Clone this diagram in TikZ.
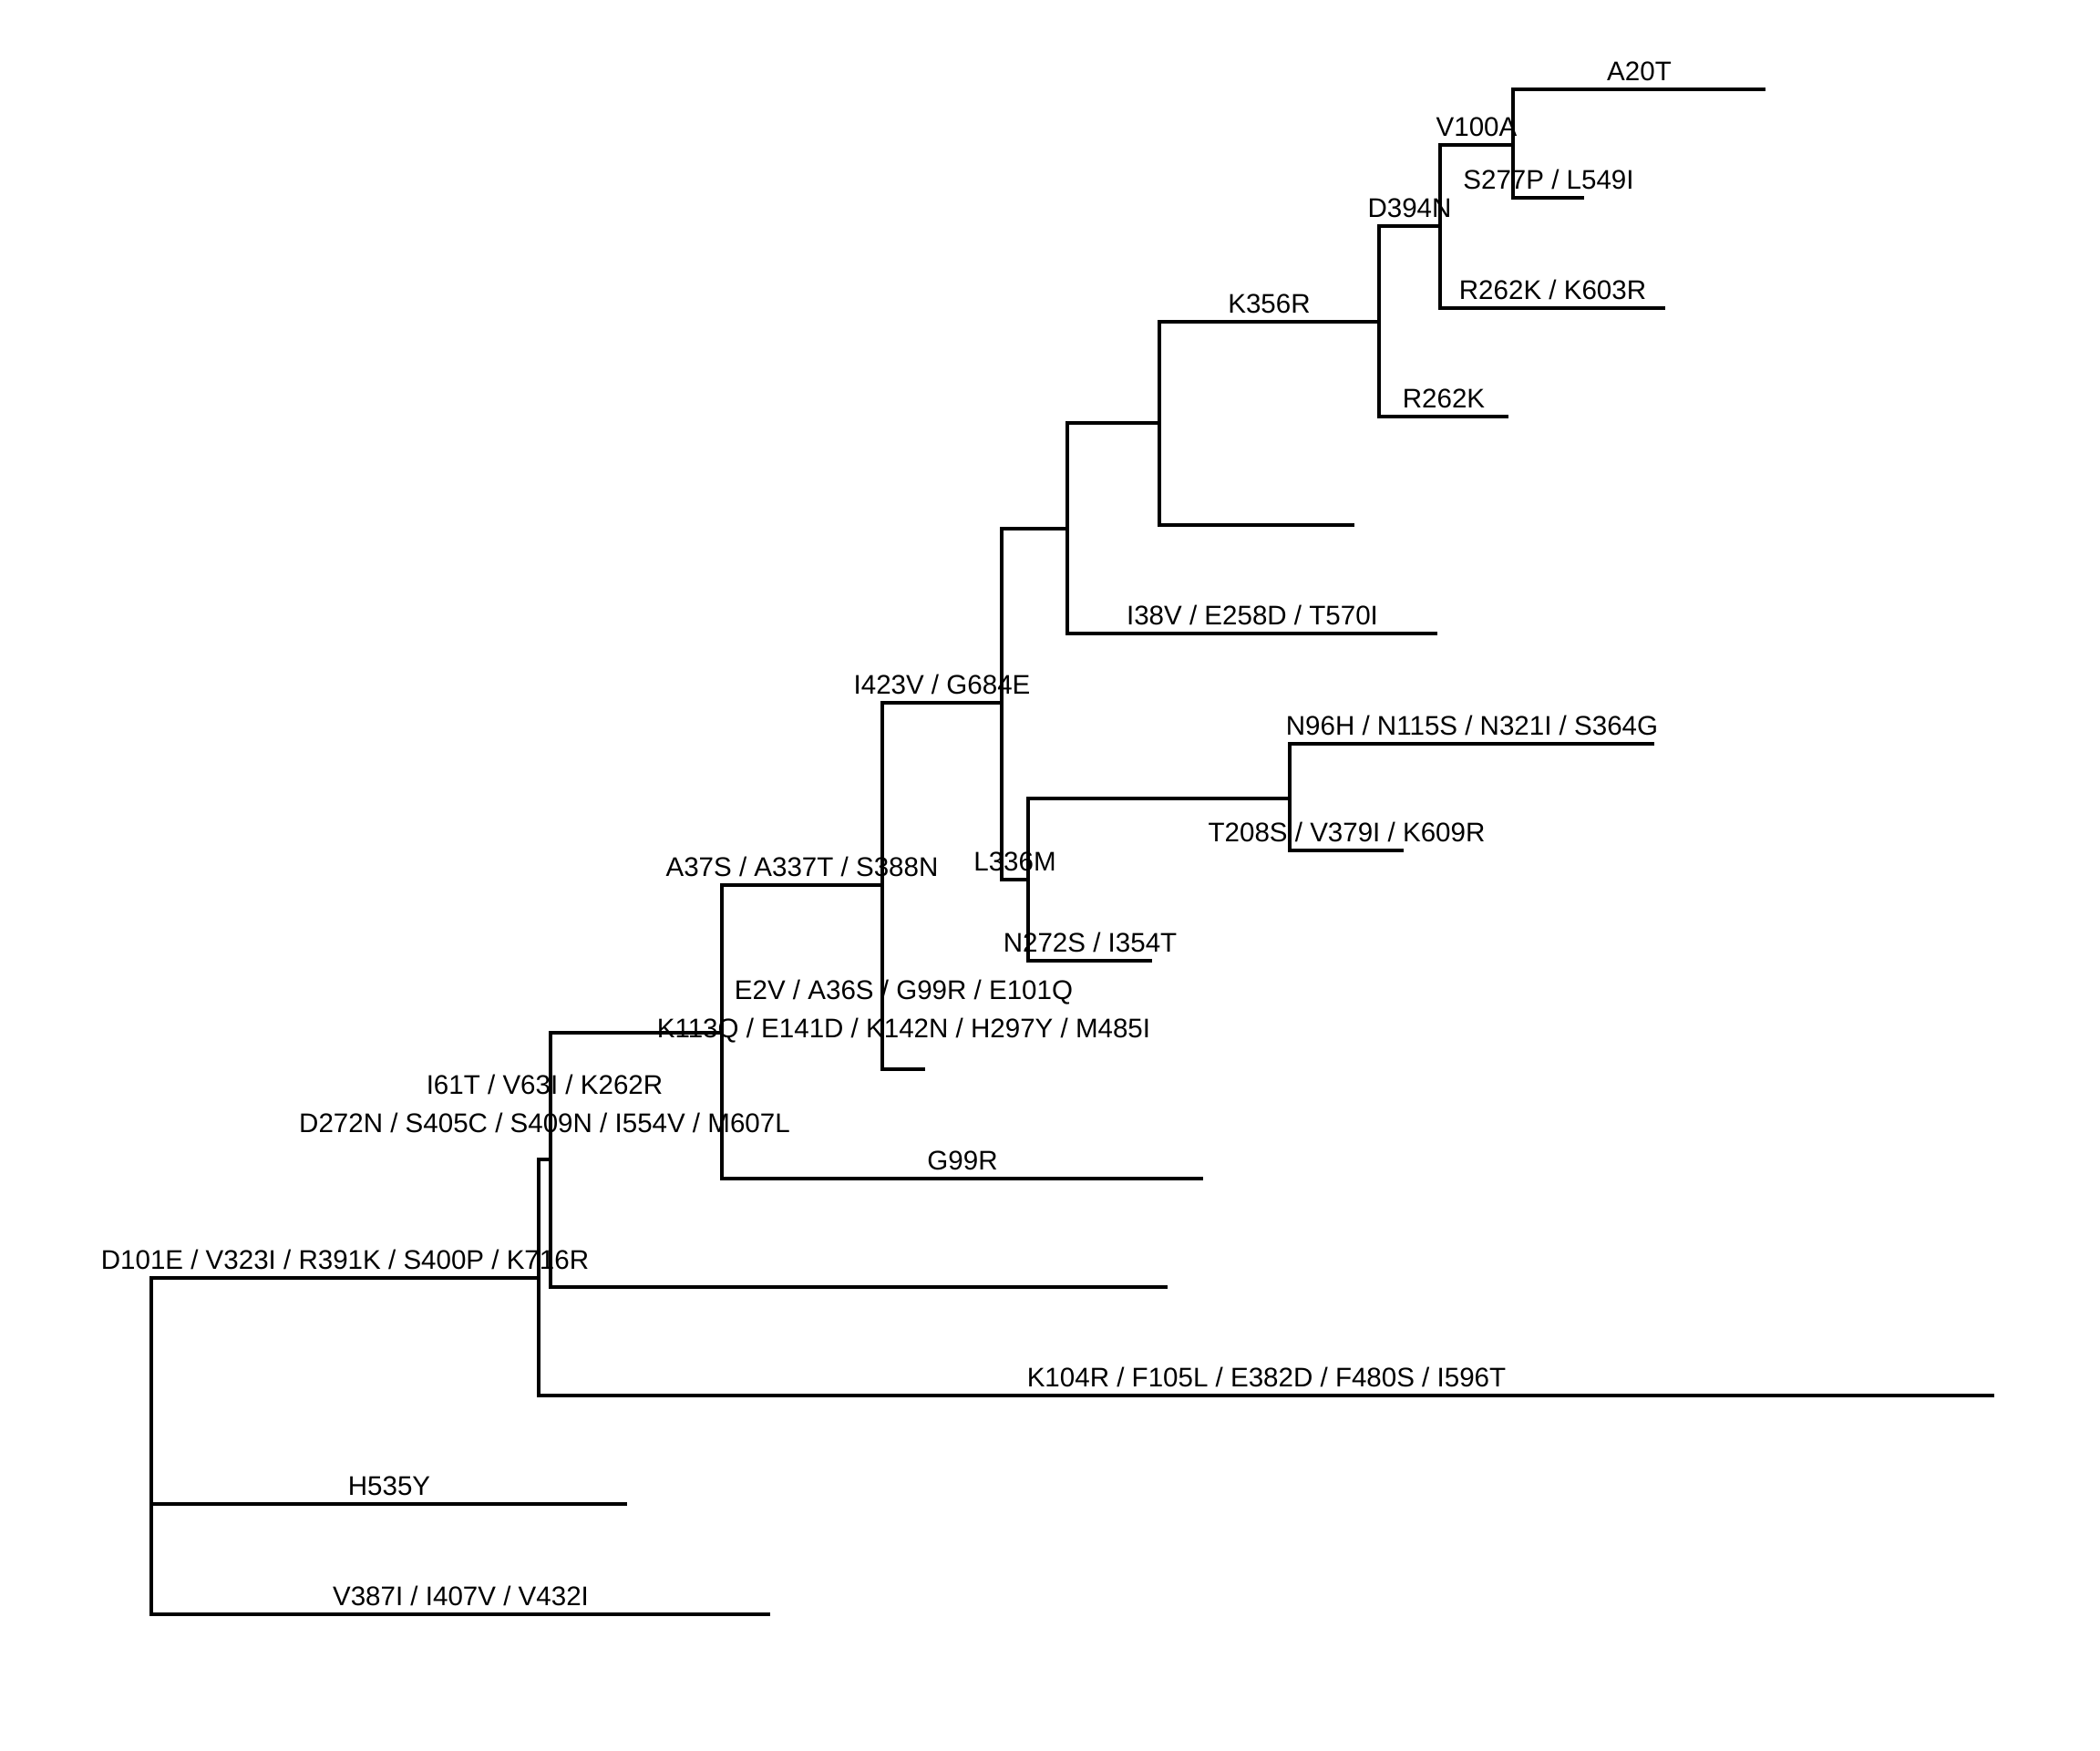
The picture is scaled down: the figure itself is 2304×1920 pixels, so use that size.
\documentclass[tikz,border=0pt]{standalone}
\usepackage{fontspec}
\newfontfamily\mutfont{Liberation Sans}
\begin{document}
\begin{tikzpicture}[%
    x=0.01cm, y=-0.01cm,        % work in pixels of the original, y going down
    line width=0.9pt,           % all branches share one weight
    ]
% -------------------------------------------------
% Branch and label styles
\tikzset{
  branch/.style={draw, line join=miter},
  mut/.style={font={\mutfont\fontsize{8.4}{12}\selectfont}, inner sep=0pt,
    anchor=base, yshift=1mm},
  % two lines of mutations sit a bit higher over their branch
  mutt/.style={font={\mutfont\fontsize{8.4}{12}\selectfont}, inner sep=0pt,
    align=center, anchor=south, yshift=2.75mm},
}
\useasboundingbox (0,0) rectangle (2304,1920);
% -------------------------------------------------
% Inner nodes of the tree
\coordinate (n0)  at (166,1608);
\coordinate (n1)  at (591,1402);
\coordinate (n2)  at (604,1272);
\coordinate (n3)  at (792,1133);
\coordinate (n4)  at (968,971);
\coordinate (n5)  at (1099,771);
\coordinate (n6)  at (1171,580);
\coordinate (n7)  at (1128,965);
\coordinate (n8)  at (1272,464);
\coordinate (n9)  at (1513,353);
\coordinate (n10) at (1580,248);
\coordinate (n11) at (1660,159);
\coordinate (n12) at (1415,876);
% Tips
\coordinate (t1)  at (688,1650);
\coordinate (t2)  at (845,1771);
\coordinate (t3)  at (2188,1531);
\coordinate (t4)  at (1281,1412);
\coordinate (t5)  at (1320,1293);
\coordinate (t6)  at (1015,1173);
\coordinate (t7)  at (1577,695);
\coordinate (t8)  at (1486,576);
\coordinate (t9)  at (1655,457);
\coordinate (t10) at (1827,338);
\coordinate (t11) at (1937,98);
\coordinate (t12) at (1738,217);
\coordinate (t13) at (1264,1054);
\coordinate (t14) at (1815,816);
\coordinate (t15) at (1540,933);
% -------------------------------------------------
% Branches, each one labelled with its mutations
\draw [branch] (n0) |- node [mut, pos=.75] {D101E / V323I / R391K / S400P / K716R} (n1);
\draw [branch] (n0) |- node [mut, pos=.75] {H535Y} (t1);
\draw [branch] (n0) |- node [mut, pos=.75] {V387I / I407V / V432I} (t2);

\draw [branch] (n1) |- node [mutt, pos=.75]
  {I61T / V63I / K262R\\D272N / S405C / S409N / I554V / M607L} (n2);
\draw [branch] (n1) |- node [mut, pos=.75] {K104R / F105L / E382D / F480S / I596T} (t3);

\draw [branch] (n2) |- (n3);
\draw [branch] (n2) |- (t4);

\draw [branch] (n3) |- node [mut, pos=.75] {A37S / A337T / S388N} (n4);
\draw [branch] (n3) |- node [mut, pos=.75] {G99R} (t5);

\draw [branch] (n4) |- node [mut, pos=.75] {I423V / G684E} (n5);
\draw [branch] (n4) |- node [mutt, pos=.75]
  {E2V / A36S / G99R / E101Q\\K113Q / E141D / K142N / H297Y / M485I} (t6);

\draw [branch] (n5) |- (n6);
\draw [branch] (n5) |- node [mut, pos=.75] {L336M} (n7);

\draw [branch] (n6) |- (n8);
\draw [branch] (n6) |- node [mut, pos=.75] {I38V / E258D / T570I} (t7);

\draw [branch] (n8) |- node [mut, pos=.75] {K356R} (n9);
\draw [branch] (n8) |- (t8);

\draw [branch] (n9) |- node [mut, pos=.75] {D394N} (n10);
\draw [branch] (n9) |- node [mut, pos=.75] {R262K} (t9);

\draw [branch] (n10) |- node [mut, pos=.75] {V100A} (n11);
\draw [branch] (n10) |- node [mut, pos=.75] {R262K / K603R} (t10);

\draw [branch] (n11) |- node [mut, pos=.75] {A20T} (t11);
\draw [branch] (n11) |- node [mut, pos=.75] {S277P / L549I} (t12);

\draw [branch] (n7) |- (n12);
\draw [branch] (n7) |- node [mut, pos=.75] {N272S / I354T} (t13);

\draw [branch] (n12) |- node [mut, pos=.75] {N96H / N115S / N321I / S364G} (t14);
\draw [branch] (n12) |- node [mut, pos=.75] {T208S / V379I / K609R} (t15);
% -------------------------------------------------
\end{tikzpicture}
\end{document}
